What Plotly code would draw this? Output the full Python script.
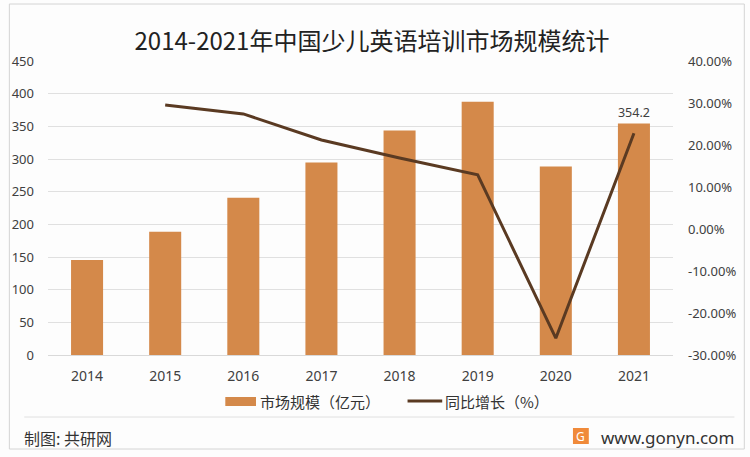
import plotly.graph_objects as go

years = ["2014", "2015", "2016", "2017", "2018", "2019", "2020", "2021"]
market_size = [145.5, 188.5, 240.5, 294.5, 343.5, 387.5, 288.5, 354.2]
growth = [None, 29.5, 27.4, 21.2, 16.9, 12.9, -26.0, 22.8]

left_ticks = [0, 50, 100, 150, 200, 250, 300, 350, 400, 450]
right_ticks = [-30, -20, -10, 0, 10, 20, 30, 40]

BAR = "#D4894A"
LINE = "#5A3A22"
FONT = "Noto Sans CJK SC, Noto Sans, sans-serif"
NUM = "Noto Sans, sans-serif"

W, H = 750, 457
L, R, T, B = 42, 77, 61, 102
pw, ph = W - L - R, H - T - B


def px(x):
    return (x - L) / pw


def py(y):
    return (H - B - y) / ph


bar_text = [""] * (len(years) - 1) + [f"{market_size[-1]:.1f}"]

fig = go.Figure()
fig.add_trace(go.Bar(
    x=years, y=market_size, name="市场规模（亿元）",
    marker=dict(color=BAR, line=dict(width=0)), width=0.41,
    text=bar_text, textposition="outside", cliponaxis=False,
    textfont=dict(size=13, color="#404040", family=NUM),
))
fig.add_trace(go.Scatter(
    x=years, y=growth, name="同比增长（%）", yaxis="y2",
    mode="lines", line=dict(color=LINE, width=3), connectgaps=False,
))


def rect(x0, x1, y0, y1, **kw):
    return dict(type="rect", xref="paper", yref="paper",
                x0=px(x0), x1=px(x1), y0=py(y1), y1=py(y0), **kw)


shapes = [
    # outer frame
    rect(3, 745, 4, 449, line=dict(color="#d4d4d4", width=1)),
    # footer separator
    dict(type="line", xref="paper", yref="paper",
         x0=px(18), x1=px(735), y0=py(417), y1=py(417),
         line=dict(color="#e0e0e0", width=1)),
    # legend keys (drawn by hand so the bar key is a wide strip)
    rect(221, 252, 397, 406, fillcolor=BAR, line=dict(width=0)),
    dict(type="line", xref="paper", yref="paper",
         x0=px(405), x1=px(440), y0=py(401), y1=py(401),
         line=dict(color=LINE, width=3)),
    # logo
    rect(572, 588, 428, 444, fillcolor="#F08A3A", line=dict(width=0)),
]

annotations = [
    dict(text="市场规模（亿元）", xref="paper", yref="paper", x=px(254), y=py(401),
         xanchor="left", yanchor="middle", showarrow=False,
         font=dict(size=15, color="#333", family=FONT)),
    dict(text="同比增长（%）", xref="paper", yref="paper", x=px(441), y=py(401),
         xanchor="left", yanchor="middle", showarrow=False,
         font=dict(size=15, color="#333", family=FONT)),
    dict(text="G", xref="paper", yref="paper", x=px(580), y=py(436),
         xanchor="center", yanchor="middle", showarrow=False,
         font=dict(size=12, color="#ffffff", family=NUM)),
    dict(text="制图: 共研网", xref="paper", yref="paper", x=px(16), y=py(438),
         xanchor="left", yanchor="middle", showarrow=False,
         font=dict(size=16, color="#333", family=FONT)),
    dict(text="www.gonyn.com", xref="paper", yref="paper", x=px(737), y=py(437),
         xanchor="right", yanchor="middle", showarrow=False,
         font=dict(size=17, color="#333", family=NUM)),
]

fig.update_layout(
    width=W, height=H,
    margin=dict(l=L, r=R, t=T, b=B),
    paper_bgcolor="#fdfdfd", plot_bgcolor="#fdfdfd",
    font=dict(family=FONT, size=13, color="#404040"),
    title=dict(text="2014-2021年中国少儿英语培训市场规模统计", x=372 / W, xanchor="center",
               y=1 - 42 / H, yanchor="middle",
               font=dict(size=24, color="#222", family=FONT)),
    xaxis=dict(showgrid=False, showline=True, linecolor="#d9d9d9",
               ticks="", ticklabelstandoff=8,
               tickfont=dict(size=14, color="#404040", family=NUM)),
    yaxis=dict(range=[0, 450], tickvals=left_ticks, showgrid=True, gridcolor="#e0e0e0",
               zeroline=False, ticks="", ticklabelstandoff=13,
               tickfont=dict(size=13, color="#404040", family=NUM)),
    yaxis2=dict(overlaying="y", side="right", range=[-30, 40], tickvals=right_ticks,
                ticktext=[f"{v:.2f}%" for v in right_ticks], showgrid=False,
                zeroline=False, ticks="", ticklabelstandoff=14,
                tickfont=dict(size=13, color="#404040", family=NUM)),
    showlegend=False,
    shapes=shapes, annotations=annotations,
)

fig.write_html("out.html", config={"displayModeBar": False},
               post_script="document.body.style.margin='0';")
